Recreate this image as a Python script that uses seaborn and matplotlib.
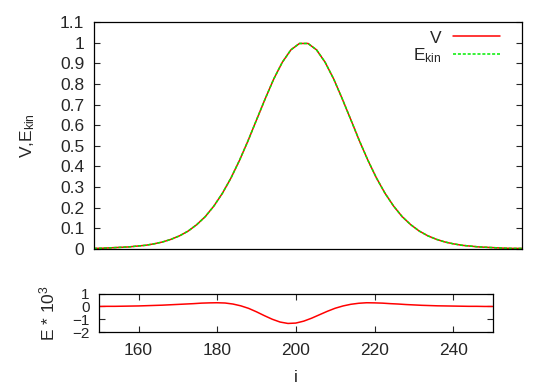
import numpy as np
import pandas as pd
import matplotlib
matplotlib.use("Agg")
import matplotlib.pyplot as plt
import seaborn as sns

# =========================
# DATA
# =========================
i_vals = list(range(150, 252, 2))

v_vals = [0.003, 0.004, 0.006, 0.008, 0.010, 0.014, 0.018, 0.025, 0.034, 0.047,
          0.064, 0.087, 0.118, 0.157, 0.208, 0.270, 0.344, 0.430, 0.525, 0.627,
          0.728, 0.824, 0.905, 0.965, 0.996,
          0.996, 0.965, 0.905, 0.824, 0.728, 0.627, 0.525, 0.430, 0.344, 0.270,
          0.208, 0.157, 0.118, 0.087, 0.064, 0.047, 0.034, 0.025, 0.018, 0.014,
          0.010, 0.008, 0.006, 0.004, 0.003, 0.003]

ekin_vals = [0.003, 0.004, 0.006, 0.008, 0.010, 0.014, 0.018, 0.025, 0.034, 0.047,
             0.064, 0.087, 0.118, 0.157, 0.208, 0.270, 0.344, 0.430, 0.525, 0.627,
             0.728, 0.824, 0.905, 0.965, 0.996,
             0.996, 0.965, 0.905, 0.824, 0.728, 0.627, 0.525, 0.430, 0.344, 0.270,
             0.208, 0.157, 0.118, 0.087, 0.064, 0.047, 0.034, 0.025, 0.018, 0.014,
             0.010, 0.008, 0.006, 0.004, 0.003, 0.003]

e_vals = [0.00, 0.01, 0.01, 0.02, 0.03, 0.04, 0.06, 0.08, 0.10, 0.13,
          0.16, 0.19, 0.22, 0.26, 0.28, 0.29, 0.27, 0.19, 0.05, -0.15,
          -0.42, -0.72, -1.00, -1.22, -1.33, -1.30, -1.15, -0.92, -0.65, -0.38,
          -0.14, 0.04, 0.17, 0.25, 0.29, 0.28, 0.26, 0.22, 0.19, 0.15,
          0.12, 0.09, 0.07, 0.05, 0.04, 0.03, 0.02, 0.01, 0.01, 0.00,
          0.00]

top_yticks = [round(0.1 * k, 1) for k in range(12)]
top_ylabels = ["0", "0.1", "0.2", "0.3", "0.4", "0.5", "0.6", "0.7", "0.8", "0.9", "1", "1.1"]
bot_yticks = [-2, -1, 0, 1]
bot_xticks = [160, 180, 200, 220, 240]

df = pd.DataFrame({"i": i_vals, "V": v_vals, "Ekin": ekin_vals, "E": e_vals})

# =========================
# STYLE
# =========================
sns.set_style("ticks")
plt.rcParams["font.family"] = ["Liberation Sans", "DejaVu Sans"]
plt.rcParams["mathtext.fontset"] = "custom"
plt.rcParams["mathtext.rm"] = "Liberation Sans"
plt.rcParams["mathtext.it"] = "Liberation Sans"
FS = 12.5

fig = plt.figure(figsize=(5.54, 3.88), dpi=100)
ax1 = fig.add_axes([0.1697, 0.3582, 0.7725, 0.5851])
ax2 = fig.add_axes([0.179, 0.1443, 0.710, 0.0988])

# =========================
# TOP PANEL
# =========================
sns.lineplot(data=df, x="i", y="V", ax=ax1, color="#ff0000", lw=1.1, label="V")
sns.lineplot(data=df, x="i", y="Ekin", ax=ax1, color="#00ee00", lw=1.1,
             linestyle=(0, (2, 1.2)), label="E$_{kin}$")
ax1.set_xlim(150, 250)
ax1.set_ylim(0, 1.1)
ax1.set_yticks(top_yticks)
ax1.set_yticklabels(top_ylabels)
ax1.set_xticks([])
ax1.set_xlabel("")
ax1.set_ylabel("V,E$_{kin}$", fontsize=FS)
ax1.yaxis.set_label_coords(-0.133, 0.5)
ax1.tick_params(axis="y", direction="in", length=4, width=0.8, right=True,
                labelsize=FS, pad=7)
leg = ax1.legend(loc="upper right", bbox_to_anchor=(0.949, 0.963), frameon=False,
                 markerfirst=False, fontsize=FS, handlelength=2.7, handletextpad=0.7,
                 borderaxespad=0, borderpad=0, labelspacing=0.05)

# =========================
# BOTTOM PANEL
# =========================
sns.lineplot(data=df, x="i", y="E", ax=ax2, color="#ff0000", lw=1.1)
ax2.set_xlim(150, 250)
ax2.set_ylim(-2, 1)
ax2.set_yticks(bot_yticks)
ax2.set_xticks(bot_xticks)
ax2.set_xlabel("i", fontsize=FS)
ax2.set_ylabel("E * 10$^3$", fontsize=FS)
ax2.xaxis.set_label_coords(0.5, -0.99)
ax2.yaxis.set_label_coords(-0.107, 0.5)
ax2.tick_params(direction="in", length=4, width=0.8, right=True, top=True, labelsize=FS)
ax2.tick_params(axis="x", pad=8)
ax2.tick_params(axis="y", pad=7, labelsize=11)

for ax in (ax1, ax2):
    for s in ax.spines.values():
        s.set_visible(True)
        s.set_color("black")
        s.set_linewidth(0.9)

fig.savefig("out.png", dpi=100)
